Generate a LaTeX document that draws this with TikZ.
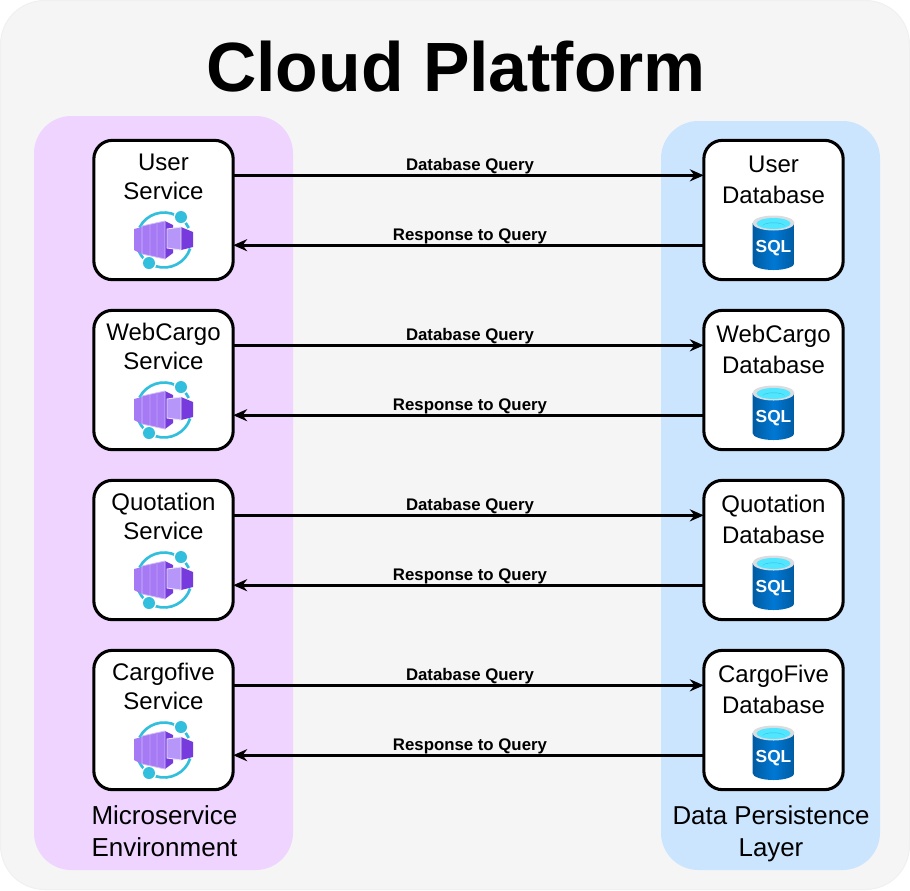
\documentclass[tikz,border=0pt]{standalone}
\usepackage{fontspec}
\setmainfont{Liberation Sans}
\usetikzlibrary{arrows.meta}

\definecolor{platformbg}{HTML}{F5F5F5}
\definecolor{platformedge}{HTML}{F0F0F0}
\definecolor{servicebg}{HTML}{EED4FF}
\definecolor{databg}{HTML}{CCE5FF}
\definecolor{ringcol}{HTML}{32BEDD}
\definecolor{cubelight}{HTML}{A67AF4}
\definecolor{cubepale}{HTML}{B796F9}
\definecolor{cubedark}{HTML}{773ADC}
\definecolor{sqldark}{HTML}{005BA1}
\definecolor{sqlblue}{HTML}{0078D4}
\definecolor{sqlrim}{HTML}{D9DDE0}
\definecolor{sqlcyan}{HTML}{50E6FF}

\tikzset{
	box/.style={draw, line width=2.3pt, fill=white, rounded corners=14pt, minimum width=104.5pt, minimum height=104.5pt, inner sep=0pt, outer sep=0pt},
	boxtext/.style={align=center, font=\fontsize{18}{21.75}\selectfont, inner sep=0pt},
	dbtext/.style={align=center, font=\fontsize{18}{23.25}\selectfont, inner sep=0pt},
	paneltext/.style={align=center, font=\fontsize{19.4}{24}\selectfont, inner sep=0pt},
	flowtext/.style={font=\fontsize{12.6}{15}\selectfont\bfseries, inner sep=0pt},
	flow/.style={line width=2.2pt, -{Stealth[length=10.5pt,width=9pt]}},
	pics/serviceicon/.style={code={
		% ring and its two dots
		\draw[ringcol, line width=2pt] (0,0) ++(207:27.5) arc[start angle=207, end angle=334, radius=27.5];
		\draw[ringcol, line width=2pt] (0,0) ++(18:27.5) arc[start angle=18, end angle=159, radius=27.5];
		\fill[white] (17,-23) circle (7.5);
		\fill[white] (-15,23) circle (7.5);
		\fill[ringcol] (17,-23) circle (6);
		\fill[ringcol] (-15,23) circle (6);
		% left container
		\fill[cubelight] (-30,-11) -- (-22,-13) -- (-22,14) -- (-30,10) -- cycle;
		\fill[cubedark] (1,-19) -- (9,-15) -- (9,13) -- (1,19) -- cycle;
		\fill[cubelight, draw=white!50!cubelight, line width=0.6pt] (-22,-14) -- (1,-19) -- (1,19) -- (-22,14) -- cycle;
		\draw[white!10!cubelight, line width=1pt] (-14,-15) -- (-14,15) (-7,-17) -- (-7,17);
		% right container
		\fill[cubedark] (17,-13) -- (29,-8) -- (29,7) -- (17,10) -- cycle;
		\fill[cubepale, draw=white!70!cubepale, line width=0.7pt] (3,-11) -- (17,-13) -- (17,10) -- (3,8) -- cycle;
	}},
	pics/sqlicon/.style={code={
		\shade[left color=sqldark, right color=sqldark, middle color=sqlblue] (-21,-20) -- (-21,20) arc[start angle=180, end angle=0, x radius=21, y radius=7] -- (21,-20) -- cycle;
		\fill[sqlrim] (0,-20) ellipse (21 and 7.5);
		\fill[sqlcyan] (0,-19.5) ellipse (17 and 5.5);
		\fill[ringcol] (-11,-17) arc[start angle=180, end angle=360, x radius=11, y radius=3] arc[start angle=0, end angle=-180, x radius=11, y radius=3.5];
		\node[text=white, font=\fontsize{13}{15}\selectfont\bfseries, inner sep=0pt] (sqlmark) at (0,5.5) {SQL};
	}}
}

\begin{document}
\begin{tikzpicture}[x=0.75pt,y=-0.75pt]
	\useasboundingbox (0,0) rectangle (910,890);

	% Background and the two layers
	\draw[platformedge, fill=platformbg, line width=0.75pt, rounded corners=33pt] (0.5,0.5) rectangle (909.5,889.5);
	\fill[servicebg, rounded corners=28pt] (34,116) rectangle (293,870);
	\fill[databg, rounded corners=28pt] (661,121) rectangle (880,870);

	% Add labels
	\node[font=\fontsize{52.3}{60}\selectfont\bfseries, inner sep=0pt] (title) at (456,67) {Cloud Platform};
	\node[paneltext, font=\fontsize{19.5}{24}\selectfont] (envlabel) at (164.5,831) {Microservice\\Environment};
	\node[paneltext] (layerlabel) at (771,834) {Data Persistence\\Layer};

	% Draw one row per service
	\foreach \i/\y/\svcname/\dbname in {1/210/User/User,2/380/WebCargo/WebCargo,3/550/Quotation/Quotation,4/720/Cargofive/CargoFive} {
		\node[box] (svc\i) at (163.5,\y) {};
		\node[box] (db\i) at (773.5,\y) {};
		\node[boxtext] (svctext\i) at (163.5,\y-33.5) {\svcname\\Service};
		\node[dbtext] (dbtext\i) at (773.5,\y-30.5) {\dbname\\Database};
		\pic at (164,\y+30) {serviceicon};
		\pic at (773.5,\y+33) {sqlicon};

		\draw[flow] ([yshift=26pt]svc\i.east) -- node[flowtext, above=0pt, xshift=1.1pt] (query\i) {Database Query} ([yshift=26pt]db\i.west);
		\draw[flow] ([yshift=-26.4pt]db\i.west) -- node[flowtext, above=0pt, xshift=1.1pt] (reply\i) {Response to Query} ([yshift=-26.4pt]svc\i.east);
	}
\end{tikzpicture}
\end{document}
